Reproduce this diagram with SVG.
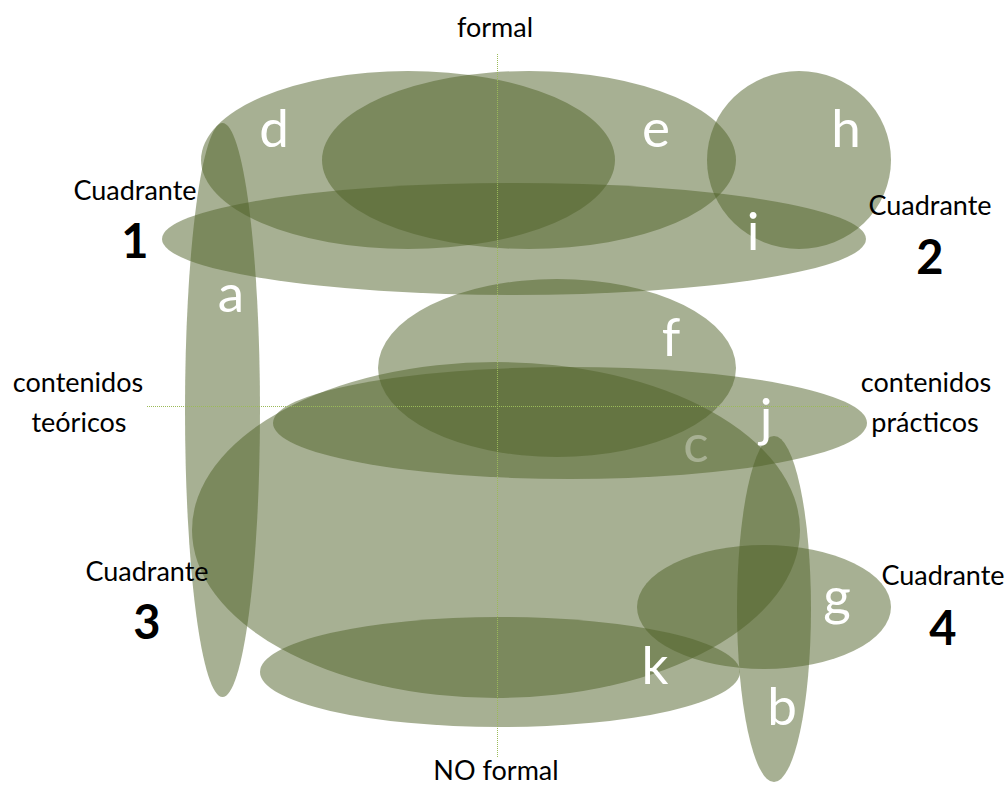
<svg xmlns="http://www.w3.org/2000/svg" width="1008" height="786" viewBox="0 0 1008 786">
<style>
.blob{fill:#4F6228;fill-opacity:0.5;stroke:none}
.lt{font-family:Lato,"Open Sans","DejaVu Sans",sans-serif;font-size:53px;fill:#ffffff;text-anchor:middle}
.ax{font-family:Lato,"Open Sans","DejaVu Sans",sans-serif;font-size:27px;fill:#000000;text-anchor:middle}
.num{font-family:Lato,"Open Sans","DejaVu Sans",sans-serif;font-size:47px;font-weight:bold;fill:#000000;text-anchor:middle}
.axis{stroke:#9BBB59;stroke-width:1;stroke-dasharray:1 1;fill:none}
</style>
<rect width="1008" height="786" fill="#ffffff"/>
<g id="node-c"><ellipse class="blob" cx="496" cy="530" rx="304" ry="168"/><text class="lt" x="696" y="462">c</text></g>
<g id="node-b"><ellipse class="blob" cx="774" cy="609" rx="37" ry="173"/><text class="lt" x="782" y="725">b</text></g>
<g id="node-j"><ellipse class="blob" cx="570" cy="423" rx="297" ry="56"/><text class="lt" x="766" y="436">j</text></g>
<g id="node-a"><ellipse class="blob" cx="222.5" cy="410" rx="37.5" ry="287"/><text class="lt" x="231" y="312">a</text></g>
<g id="node-d"><ellipse class="blob" cx="408" cy="160" rx="207" ry="89"/><text class="lt" x="274" y="147">d</text></g>
<g id="node-e"><ellipse class="blob" cx="529" cy="160" rx="207" ry="89"/><text class="lt" x="656" y="147">e</text></g>
<g id="node-h"><ellipse class="blob" cx="799" cy="160" rx="92" ry="89"/><text class="lt" x="846" y="147">h</text></g>
<g id="node-i"><ellipse class="blob" cx="514" cy="239" rx="352" ry="56"/><text class="lt" x="753" y="250">i</text></g>
<g id="node-f"><ellipse class="blob" cx="557" cy="368" rx="179" ry="89"/><text class="lt" x="671" y="356">f</text></g>
<g id="node-g"><ellipse class="blob" cx="764" cy="607" rx="127" ry="62"/><text class="lt" x="837" y="615">g</text></g>
<g id="node-k"><ellipse class="blob" cx="500" cy="672" rx="240" ry="55"/><text class="lt" x="655" y="684">k</text></g>
<g id="connectors">
<line class="axis" x1="497.5" y1="54" x2="497.5" y2="758"/>
<line class="axis" x1="147" y1="406.5" x2="848" y2="406.5"/>
</g>
<g id="labels">
<text class="ax" x="495" y="37">formal</text>
<text class="ax" x="496" y="780">NO formal</text>
<text class="ax" x="78" y="392">contenidos</text>
<text class="ax" x="79" y="432">teóricos</text>
<text class="ax" x="926" y="392">contenidos</text>
<text class="ax" x="925" y="432">prácticos</text>
<text class="ax" x="135" y="200">Cuadrante</text>
<text class="num" x="135" y="258">1</text>
<text class="ax" x="930" y="215">Cuadrante</text>
<text class="num" x="930" y="274">2</text>
<text class="ax" x="147" y="581">Cuadrante</text>
<text class="num" x="147" y="639">3</text>
<text class="ax" x="943" y="585">Cuadrante</text>
<text class="num" x="943" y="645">4</text>
</g>
</svg>
